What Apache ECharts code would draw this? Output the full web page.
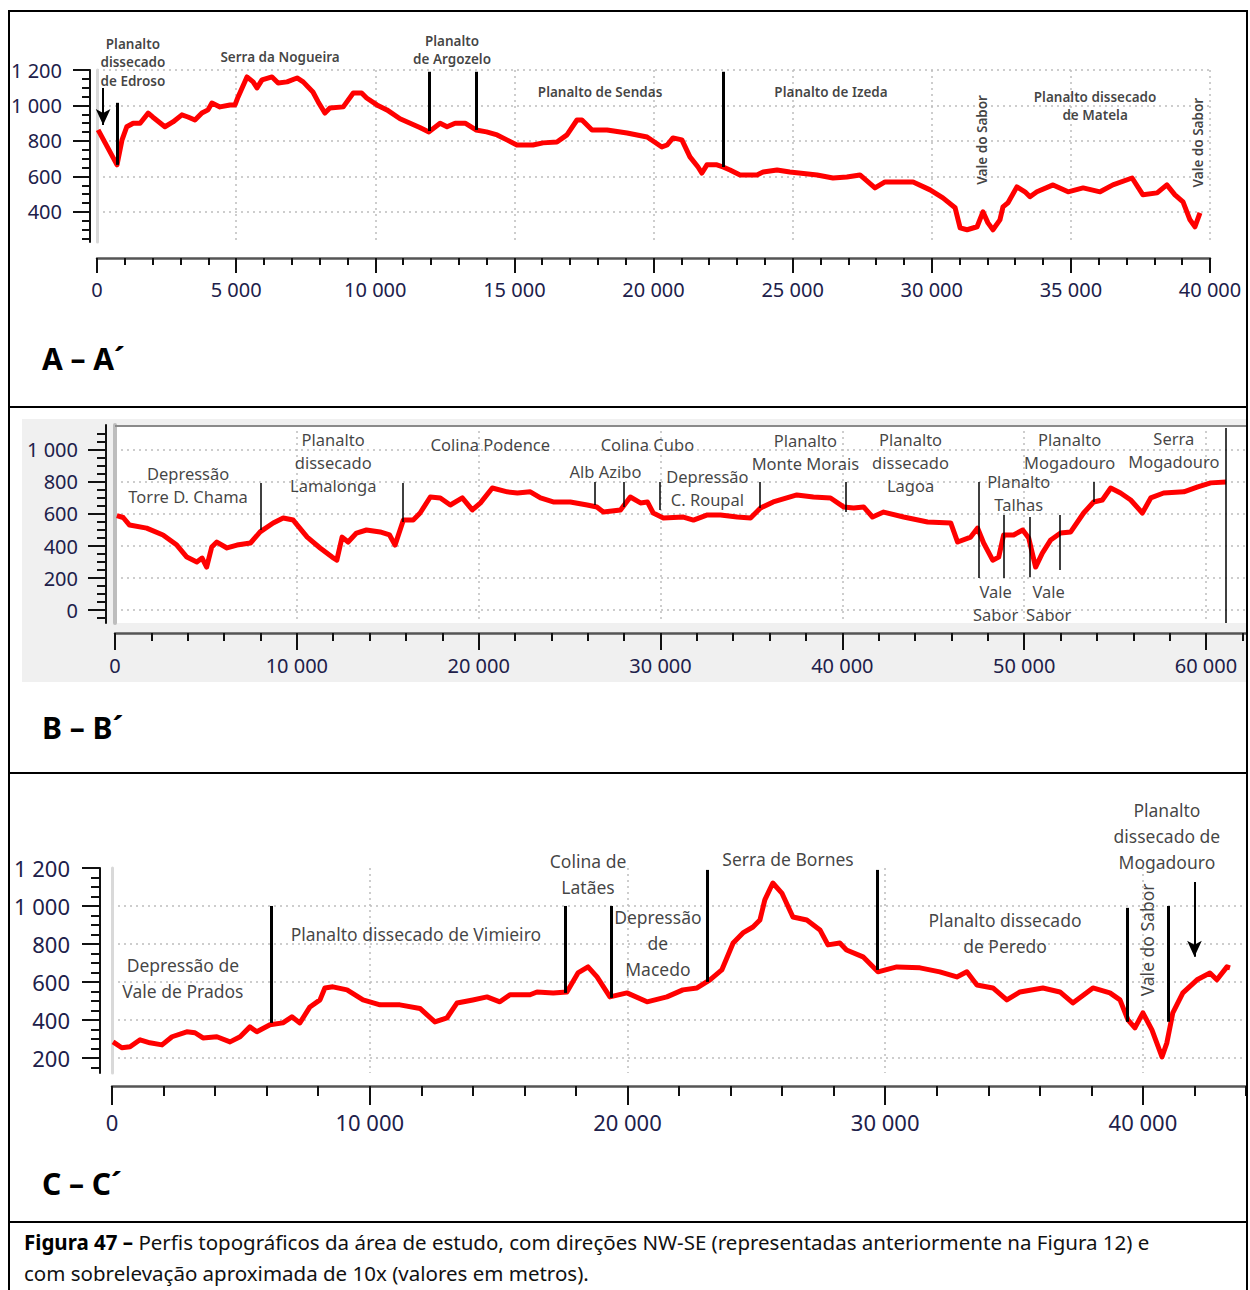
<!DOCTYPE html>
<html><head><meta charset="utf-8">
<script src="https://cdn.jsdelivr.net/npm/echarts@6/dist/echarts.min.js"></script>
<style>html,body{margin:0;padding:0;background:#fff}#c{width:1250px;height:1290px}</style>
</head><body><div id="c"></div>
<script>
// ---------- DATA ----------
// Profile A – A´ (distance m, elevation m)
const distA = [40,720,900,1070,1300,1550,1840,2000,2440,2730,3050,3270,3520,3770,3990,4130,4420,4780,4960,5070,5390,5610,5750,5930,6290,6510,6830,7190,7410,7760,7950,8190,8370,8850,9210,9510,9690,10060,10420,10890,11600,11930,12330,12580,12870,13230,13620,14000,14380,14730,15090,15670,16030,16530,16890,17250,17430,17790,18330,19050,19770,20300,20490,20700,21020,21310,21600,21740,21920,22280,22500,22750,23110,23720,23940,24440,24900,25880,26450,26950,27420,27960,28320,29330,29940,30400,30840,31020,31270,31630,31840,32020,32200,32450,32560,32740,33060,33350,33530,33780,34360,34900,35440,36050,36510,37200,37590,38100,38450,38740,39030,39280,39460,39640];
const elevA = [862,665,806,880,900,900,957,935,880,907,947,935,918,957,975,1014,992,1003,1003,1048,1161,1133,1099,1144,1161,1127,1133,1155,1133,1076,1020,957,986,992,1070,1070,1042,1003,975,925,876,851,900,880,900,900,862,851,834,806,777,777,789,794,834,918,918,862,862,845,822,766,777,817,806,710,653,619,665,665,653,636,608,608,625,636,625,608,591,597,608,535,569,569,524,479,423,310,299,316,400,338,299,355,428,451,541,513,485,513,552,513,535,513,552,591,496,507,552,496,456,355,316,394];

// Profile B – B´
const distB = [100,450,800,1740,2640,3400,3950,4500,4790,5040,5320,5600,6160,6710,7450,7980,8700,9250,9800,10570,11280,11940,12200,12490,12820,13280,13830,14580,15100,15400,15860,16400,16780,17340,17890,18440,19100,19650,20100,20750,21570,22130,22840,23400,24100,25040,25970,26500,26860,27800,28340,28900,29280,29600,30160,31260,31810,32580,33300,34220,34950,35500,36200,37500,38410,39350,40070,40620,41170,41660,42270,43370,44690,45960,46340,47060,47440,47770,48270,48600,48870,49420,49920,50250,50630,51000,51460,52000,52560,53270,53820,54300,54760,55300,55860,56500,56960,57670,58780,59550,60260,61100];
const elevB = [590,578,531,512,469,406,331,300,325,269,394,425,388,406,419,488,544,575,562,456,388,331,312,456,425,481,500,488,469,406,562,562,606,706,700,656,700,625,669,762,738,731,738,700,675,675,656,644,612,625,706,669,675,606,575,581,562,594,594,581,575,637,675,719,706,700,644,637,644,581,612,581,550,544,425,456,512,419,312,331,469,469,500,450,269,356,438,481,488,606,675,687,762,731,687,606,700,731,738,769,794,800];

// Profile C – C´
const distC = [40,380,700,1090,1470,1940,2330,2900,3220,3530,4070,4580,4970,5350,5620,6130,6630,6980,7290,7680,8070,8260,8570,9120,9740,10400,11170,11950,12530,13000,13390,14000,14550,15050,15440,16220,16490,17120,17650,18080,18470,18820,19320,19980,20760,21530,22150,22700,23200,23660,24100,24480,24870,25140,25330,25640,25990,26420,26960,27470,27780,28240,28500,29140,29720,30450,31350,32120,32780,33170,33560,34180,34720,35230,36120,36780,37280,38060,38720,39110,39420,39690,40000,40350,40740,40930,41160,41550,42100,42600,42870,43260,43380];
const elevC = [284,253,258,295,279,268,311,337,332,305,311,284,311,363,337,374,384,416,384,468,505,568,574,558,505,479,479,460,389,411,489,505,521,495,532,532,547,542,547,647,679,626,521,542,495,521,558,568,611,663,805,858,889,926,1032,1121,1068,942,926,874,795,805,768,732,653,679,674,653,626,653,584,568,505,547,568,547,489,568,542,505,400,358,437,347,205,279,437,542,611,647,611,679,674];

// Tick values
const yTicksA = [400, 600, 800, 1000, 1200];
const xTicksA = [0, 5000, 10000, 15000, 20000, 25000, 30000, 35000, 40000];
const yTicksB = [0, 200, 400, 600, 800, 1000];
const xTicksB = [0, 10000, 20000, 30000, 40000, 50000, 60000];
const yTicksC = [200, 400, 600, 800, 1000, 1200];
const xTicksC = [0, 10000, 20000, 30000, 40000];

// Unit boundary lines: [distance, from elevation, to elevation]
const boundsA = [[720,665,1015],[11930,856,1190],[13620,862,1190],[22500,653,1190],[30900,175,1200],[32600,186,1200],[39140,186,1210]];
const thinA = [[39570,1125,1210],[39570,200,455]];
const arrowA = [[220,1098,890]];
const boundsB = [[8040,500,794],[15800,550,794],[26400,656,800],[27960,644,800],[29940,625,800],[35440,637,800],[40200,612,800],[47500,200,800],[48900,200,594],[50300,206,581],[51950,250,594],[53800,675,800],[61100,-80,1137]];
const boundsC = [[6170,384,1000],[17600,542,1000],[19360,516,1000],[23100,600,1190],[29700,663,1190],[39400,390,990],[40970,390,1000]];
const thinC = [[43250,110,1190]];
const arrowC = [[42000,1126,732]];

// Landform labels: [distance, elevation, text, vertical]
const notesA = [
  [1290,1245,'Planalto\ndissecado\nde Edroso',0],
  [6580,1273,'Serra da Nogueira',0],
  [12760,1313,'Planalto\nde Argozelo',0],
  [18080,1076,'Planalto de Sendas',0],
  [26380,1076,'Planalto de Izeda',0],
  [31800,806,'Vale do Sabor',1],
  [35870,997,'Planalto dissecado\nde Matela',0],
  [39570,790,'Vale do Sabor',1]
];
const notesB = [
  [4020,781,'Depressão\nTorre D. Chama',0],
  [12000,919,'Planalto\ndissecado\nLamalonga',0],
  [20640,1031,'Colina Podence',0],
  [29280,1031,'Colina Cubo',0],
  [26970,862,'Alb Azibo',0],
  [32580,759,'Depressão\nC. Roupal',0],
  [37970,984,'Planalto\nMonte Morais',0],
  [43750,919,'Planalto\ndissecado\nLagoa',0],
  [49700,731,'Planalto\nTalhas',0],
  [48430,47,'Vale\nSabor',0],
  [51350,47,'Vale\nSabor',0],
  [52500,991,'Planalto\nMogadouro',0],
  [58230,997,'Serra\nMogadouro',0]
];
const notesC = [
  [2750,621,'Depressão de\nVale de Prados',0],
  [11790,853,'Planalto dissecado de Vimieiro',0],
  [18470,1166,'Colina de\nLatães',0],
  [21180,805,'Depressão\nde\nMacedo',0],
  [26230,1247,'Serra de Bornes',0],
  [34650,855,'Planalto dissecado\nde Peredo',0],
  [40160,821,'Vale do Sabor',1],
  [40930,1366,'Planalto\ndissecado de\nMogadouro',0]
];

// ---------- BUILD ----------
const fmt = v => String(v).replace(/\B(?=(\d{3})+(?!\d))/g, ' ');
const range = (a, b, s) => { const r = []; for (let v = a; v <= b + 1e-9; v += s) r.push(v); return r; };
const FONT = '"Noto Sans", "Open Sans", sans-serif';
const labelColor = '#20204a';

const panels = [
  { dist: distA, elev: elevA, xT: xTicksA, yT: yTicksA, xMinor: range(0, 40000, 1000), yMinor: range(250, 1200, 50),
    grid: { left: 97, top: 70, width: 1113, height: 172 }, xMin: 0, xMax: 40000, yMin: 230, yMax: 1200,
    xOff: 16, yOff: 7, xMaj: 15, xMin_: 7, yMaj: 17, yMin_: 8, xMargin: 21, yMargin: 11, fs: 20,
    frame: { color: '#d9d9d9', width: 3 }, showMaxLine: true,
    bounds: boundsA, bw: 3, thin: thinA, arrows: arrowA, notes: notesA, nfs: 13.5, nlh: 18.5, nfw: 600 },
  { dist: distB, elev: elevB, xT: xTicksB, yT: yTicksB, xMinor: range(0, 62000, 2000), yMinor: range(-50, 1100, 50),
    grid: { left: 115, top: 425, width: 1131, height: 198, show: true, backgroundColor: '#fff', borderWidth: 0 },
    xMin: 0, xMax: 62200, yMin: -80, yMax: 1155,
    xOff: 10, yOff: 9, xMaj: 17, xMin_: 8, yMaj: 18, yMin_: 9, xMargin: 22, yMargin: 10, fs: 20,
    frame: { color: '#bdbdbd', width: 4 }, showMaxLine: true,
    bounds: boundsB, bw: 1.5, thin: [], arrows: [], notes: notesB, nfs: 16.5, nlh: 23, nfw: 'normal' },
  { dist: distC, elev: elevC, xT: xTicksC, yT: yTicksC, xMinor: range(0, 44000, 2000), yMinor: range(150, 1200, 50),
    grid: { left: 112, top: 868, width: 1134, height: 205 }, xMin: 0, xMax: 44000, yMin: 120, yMax: 1200,
    xOff: 13, yOff: 12, xMaj: 19, xMin_: 10, yMaj: 18, yMin_: 9, xMargin: 25, yMargin: 12, fs: 22,
    frame: { color: '#d9d9d9', width: 3 }, showMaxLine: false,
    bounds: boundsC, bw: 3, thin: thinC, arrows: arrowC, notes: notesC, nfs: 17.5, nlh: 26, nfw: 'normal' }
];

const grids = [], xAxes = [], yAxes = [], series = [];
panels.forEach((p, i) => {
  grids.push(Object.assign({ containLabel: false }, p.grid));
  // X axes
  xAxes.push({ gridIndex: i, type: 'value', position: 'bottom', offset: p.xOff, min: p.xMin, max: p.xMax,
    axisLine: { show: true, onZero: false, lineStyle: { color: '#555', width: 2.5 } },
    axisTick: { show: true, customValues: p.xT, length: p.xMaj, lineStyle: { color: '#111', width: 2 } },
    axisLabel: { show: true, customValues: p.xT, formatter: fmt, margin: p.xMargin, fontSize: p.fs, fontFamily: FONT, color: labelColor },
    splitLine: { show: true, lineStyle: { type: [2, 4], color: '#bdbdbd', width: 1.5 } } });
  xAxes.push({ gridIndex: i, type: 'value', position: 'bottom', offset: p.xOff, min: p.xMin, max: p.xMax,
    axisLine: { show: false, onZero: false },
    axisTick: { show: true, customValues: p.xMinor, length: p.xMin_, lineStyle: { color: '#111', width: 2 } },
    axisLabel: { show: false }, splitLine: { show: false } });
  // Y axes
  yAxes.push({ gridIndex: i, type: 'value', position: 'left', offset: p.yOff, min: p.yMin, max: p.yMax,
    axisLine: { show: true, onZero: false, lineStyle: { color: '#111', width: 2 } },
    axisTick: { show: true, customValues: p.yT, length: p.yMaj, lineStyle: { color: '#111', width: 2 } },
    axisLabel: { show: true, customValues: p.yT, formatter: fmt, margin: p.yMaj + p.yMargin, fontSize: p.fs, fontFamily: FONT, color: labelColor },
    splitLine: { show: true, showMinLine: true, showMaxLine: p.showMaxLine, lineStyle: { type: [2, 4], color: '#bdbdbd', width: 1.5 } } });
  yAxes.push({ gridIndex: i, type: 'value', position: 'left', offset: p.yOff, min: p.yMin, max: p.yMax,
    axisLine: { show: false, onZero: false },
    axisTick: { show: true, customValues: p.yMinor, length: p.yMin_, lineStyle: { color: '#111', width: 2 } },
    axisLabel: { show: false }, splitLine: { show: false } });
  yAxes.push({ gridIndex: i, type: 'value', position: 'left', offset: 0, min: p.yMin, max: p.yMax,
    axisLine: { show: true, onZero: false, lineStyle: p.frame },
    axisTick: { show: false }, axisLabel: { show: false }, splitLine: { show: false } });

  const ml = [];
  p.bounds.forEach(b => ml.push([{ coord: [b[0], b[1]], lineStyle: { width: p.bw, color: '#000', type: 'solid' } }, { coord: [b[0], b[2]] }]));
  p.thin.forEach(b => ml.push([{ coord: [b[0], b[1]], lineStyle: { width: 1.5, color: '#000', type: 'solid' } }, { coord: [b[0], b[2]] }]));
  p.arrows.forEach(b => ml.push([{ coord: [b[0], b[1]], symbol: 'none', lineStyle: { width: 2, color: '#000', type: 'solid' } },
    { coord: [b[0], b[2]], symbol: 'arrow', symbolSize: [11, 16] }]));

  series.push({ type: 'line', xAxisIndex: 2 * i, yAxisIndex: 3 * i, data: p.dist.map((d, k) => [d, p.elev[k]]),
    symbol: 'none', showSymbol: false, clip: false, animation: false, z: 3,
    lineStyle: { color: '#ff0000', width: 5, join: 'round' },
    markLine: { silent: true, symbol: 'none', animation: false, label: { show: false },
      lineStyle: { color: '#000', type: 'solid' }, emphasis: { disabled: true }, data: ml } });

  series.push({ type: 'scatter', xAxisIndex: 2 * i, yAxisIndex: 3 * i, symbolSize: 1, clip: false, silent: true,
    animation: false, z: 6, itemStyle: { color: 'rgba(0,0,0,0)' },
    label: { show: true, position: 'inside', color: '#111', fontSize: p.nfs, fontWeight: p.nfw, fontFamily: FONT, lineHeight: p.nlh, align: 'center', verticalAlign: 'middle' },
    data: p.notes.map(n => ({ value: [n[0], n[1]], label: { formatter: n[2], rotate: n[3] ? 90 : 0 } })) });
});

const graphic = [
  { type: 'rect', z: -100, silent: true, shape: { x: 22, y: 419, width: 1225, height: 263 }, style: { fill: '#f0f0f0' } },
  { type: 'line', z: 50, silent: true, shape: { x1: 115, y1: 426, x2: 1247, y2: 426 }, style: { stroke: '#8a8a8a', lineWidth: 2 } },
  { type: 'rect', z: 60, silent: true, shape: { x: 9, y: 11, width: 1238, height: 1300 }, style: { fill: 'none', stroke: '#000', lineWidth: 2 } },
  { type: 'line', z: 60, silent: true, shape: { x1: 9, y1: 407, x2: 1247, y2: 407 }, style: { stroke: '#000', lineWidth: 2 } },
  { type: 'line', z: 60, silent: true, shape: { x1: 9, y1: 773, x2: 1247, y2: 773 }, style: { stroke: '#000', lineWidth: 2 } },
  { type: 'line', z: 60, silent: true, shape: { x1: 9, y1: 1222, x2: 1247, y2: 1222 }, style: { stroke: '#000', lineWidth: 2 } },
  { type: 'text', z: 60, x: 42, y: 358, style: { text: 'A – A´', font: 'bold 30px ' + FONT, fill: '#000', verticalAlign: 'middle' } },
  { type: 'text', z: 60, x: 42, y: 727, style: { text: 'B – B´', font: 'bold 30px ' + FONT, fill: '#000', verticalAlign: 'middle' } },
  { type: 'text', z: 60, x: 42, y: 1183, style: { text: 'C – C´', font: 'bold 30px ' + FONT, fill: '#000', verticalAlign: 'middle' } },
  { type: 'text', z: 60, x: 24, y: 1242, style: { text: '{b|Figura 47 –} Perfis topográficos da área de estudo, com direções NW-SE (representadas anteriormente na Figura 12) e',
      font: '20.5px ' + FONT, fill: '#111', verticalAlign: 'middle', rich: { b: { fontWeight: 'bold', fontSize: 20.5, fontFamily: FONT, fill: '#000' } } } },
  { type: 'text', z: 60, x: 24, y: 1273, style: { text: 'com sobrelevação aproximada de 10x (valores em metros).', font: '20.5px ' + FONT, fill: '#111', verticalAlign: 'middle' } }
];

const chart = echarts.init(document.getElementById('c'), null, { renderer: 'svg', width: 1250, height: 1290 });
chart.setOption({ animation: false, backgroundColor: '#fff', grid: grids, xAxis: xAxes, yAxis: yAxes, series: series, graphic: graphic });
</script></body></html>
